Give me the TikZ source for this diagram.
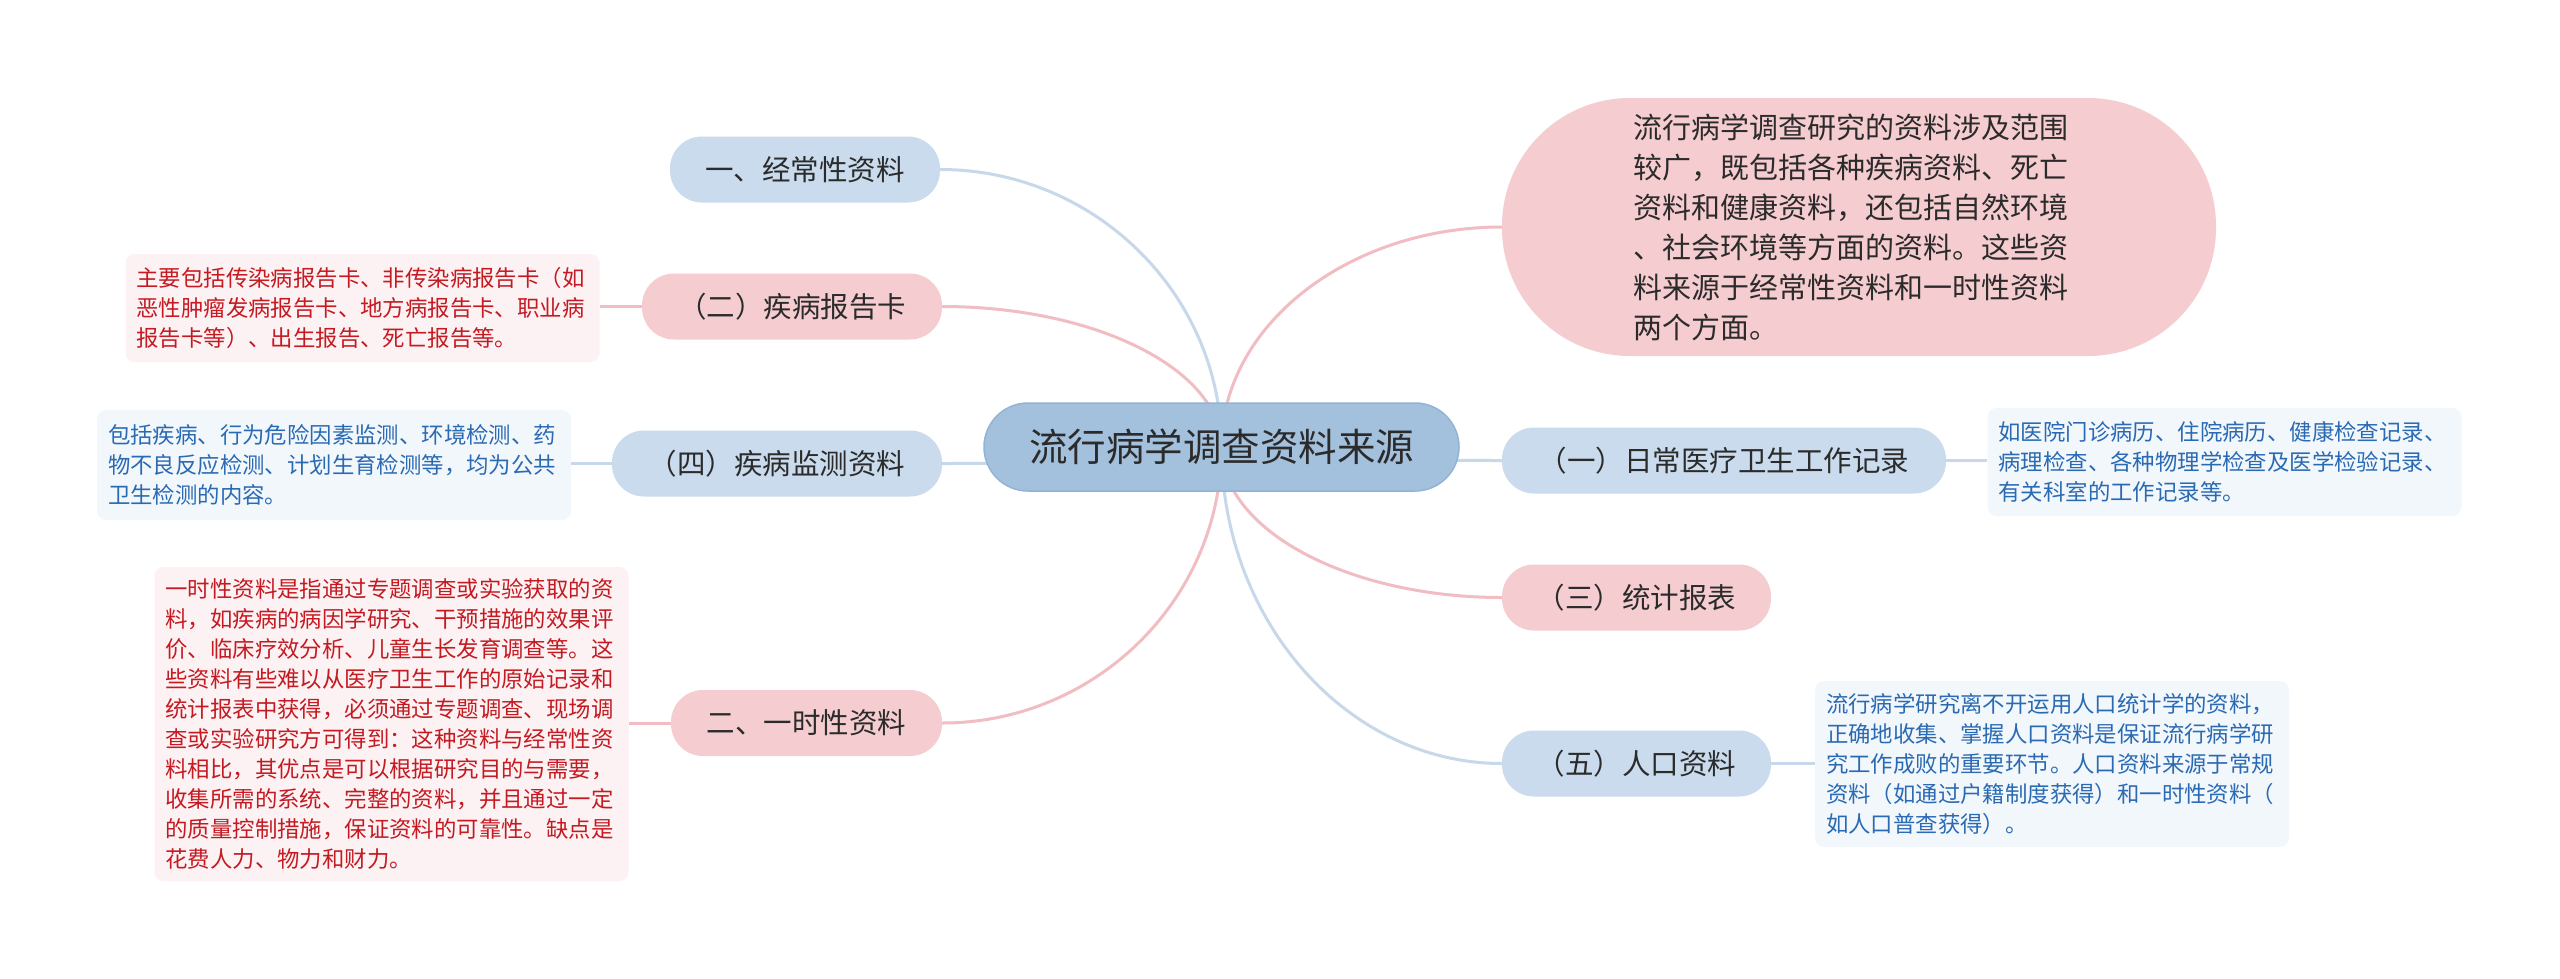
\documentclass[tikz,border=0pt]{standalone}
\usepackage{fontspec}
\setmainfont{Noto Sans CJK SC}
\usetikzlibrary{calc,backgrounds}
\definecolor{hubc}{HTML}{A3C0DD}
\definecolor{hubd}{HTML}{93B3D6}
\definecolor{bluec}{HTML}{C9DBEC}
\definecolor{pinkc}{HTML}{F5CDD0}
\definecolor{pdetc}{HTML}{FDF2F3}
\definecolor{bdetc}{HTML}{F2F7FC}
\definecolor{pdett}{HTML}{C41A22}
\definecolor{bdett}{HTML}{2A6AB3}
\definecolor{txt}{HTML}{2B2B2B}
\definecolor{blink}{HTML}{C6D8EA}
\definecolor{plink}{HTML}{F1BDC2}
\newcommand\mmlink[3]{\draw[#1] (#2.center) .. controls ($(#2.center)!0.55!(#2.center|-#3)$) and ($(#3)!0.55!(#3-|#2.center)$) .. (#3);}
\tikzset{
  hub/.style={fill=hubc, draw=hubd, line width=1.5pt, rounded corners=44pt, minimum width=475pt, minimum height=88pt, inner sep=0pt, text=txt, font=\fontsize{38.5pt}{46pt}\selectfont},
  brbase/.style={rounded corners=32pt, minimum height=66pt, inner sep=0pt, text=txt, font=\fontsize{28.5pt}{34pt}\selectfont},
  bbr/.style={brbase, fill=bluec},
  pbr/.style={brbase, fill=pinkc},
  bigp/.style={fill=pinkc, rounded corners=128pt, minimum width=714pt, minimum height=258pt, inner sep=0pt, text=txt, align=left, text width=440pt, font=\fontsize{29pt}{40pt}\selectfont},
  detbase/.style={rounded corners=9pt, align=left, text width=452pt, inner xsep=11pt, inner ysep=0pt, font=\fontsize{22.4pt}{30pt}\selectfont},
  pdet/.style={detbase, fill=pdetc, text=pdett},
  bdet/.style={detbase, fill=bdetc, text=bdett},
  bl/.style={draw=blink, line width=3pt},
  pl/.style={draw=plink, line width=3pt}
}
\begin{document}
\begin{tikzpicture}[x=1pt,y=-1pt]
\useasboundingbox (0,0) rectangle (2560,978);
% hub
\node[hub] (c) at (1221.5,447) {流行病学调查资料来源};
% left branches
\node[bbr, minimum width=270pt] (b1) at (805,169.5) {一、经常性资料};
\node[pbr, minimum width=300pt] (b2) at (792,306.5) {（二）疾病报告卡};
\node[bbr, minimum width=330pt] (b4) at (777,463.5) {（四）疾病监测资料};
\node[pbr, minimum width=271pt] (b6) at (806.5,723) {二、一时性资料};
% right branches
\node[bigp] (r0) at (1859,227) {\hspace*{-6pt}流行病学调查研究的资料涉及范围\\\hspace*{-6pt}较广，既包括各种疾病资料、死亡\\\hspace*{-6pt}资料和健康资料，还包括自然环境\\\hspace*{-6pt}、社会环境等方面的资料。这些资\\\hspace*{-6pt}料来源于经常性资料和一时性资料\\\hspace*{-6pt}两个方面。};
\node[bbr, minimum width=444pt] (r1) at (1724,460.5) {（一）日常医疗卫生工作记录};
\node[pbr, minimum width=269pt] (r3) at (1636.5,597.5) {（三）统计报表};
\node[bbr, minimum width=269pt] (r5) at (1636.5,763.5) {（五）人口资料};
% detail boxes
\node[pdet, minimum height=108pt] (d2) at (362.5,308) {主要包括传染病报告卡、非传染病报告卡（如\\恶性肿瘤发病报告卡、地方病报告卡、职业病\\报告卡等）、出生报告、死亡报告等。};
\node[bdet, minimum height=110pt] (d4) at (334,465) {包括疾病、行为危险因素监测、环境检测、药\\物不良反应检测、计划生育检测等，均为公共\\卫生检测的内容。};
\node[pdet, minimum height=314pt] (d6) at (391.5,724) {一时性资料是指通过专题调查或实验获取的资\\料，如疾病的病因学研究、干预措施的效果评\\价、临床疗效分析、儿童生长发育调查等。这\\些资料有些难以从医疗卫生工作的原始记录和\\统计报表中获得，必须通过专题调查、现场调\\查或实验研究方可得到：这种资料与经常性资\\料相比，其优点是可以根据研究目的与需要，\\收集所需的系统、完整的资料，并且通过一定\\的质量控制措施，保证资料的可靠性。缺点是\\花费人力、物力和财力。};
\node[bdet, minimum height=108pt] (e1) at (2224.5,462) {如医院门诊病历、住院病历、健康检查记录、\\病理检查、各种物理学检查及医学检验记录、\\有关科室的工作记录等。};
\node[bdet, minimum height=166pt] (e5) at (2052,764) {流行病学研究离不开运用人口统计学的资料，\\正确地收集、掌握人口资料是保证流行病学研\\究工作成败的重要环节。人口资料来源于常规\\资料（如通过户籍制度获得）和一时性资料（\\如人口普查获得）。};
\begin{pgfonlayer}{background}
\fill[white] (0,0) rectangle (2560,978);
\mmlink{bl}{c}{b1.east}
\mmlink{pl}{c}{b2.east}
\mmlink{bl}{c}{b4.east}
\mmlink{pl}{c}{b6.east}
\mmlink{pl}{c}{r0.west}
\mmlink{bl}{c}{r1.west}
\mmlink{pl}{c}{r3.west}
\mmlink{bl}{c}{r5.west}
\draw[pl] (b2.west) -- (b2.west-|d2.east);
\draw[bl] (b4.west) -- (b4.west-|d4.east);
\draw[pl] (b6.west) -- (b6.west-|d6.east);
\draw[bl] (r1.east) -- (r1.east-|e1.west);
\draw[bl] (r5.east) -- (r5.east-|e5.west);
\end{pgfonlayer}
\end{tikzpicture}
\end{document}
